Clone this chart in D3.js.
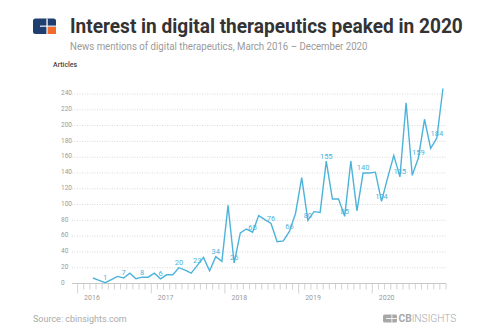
<!DOCTYPE html>
<html><head><meta charset="utf-8">
<script src="https://cdn.jsdelivr.net/npm/d3@7"></script>
<style>
html,body{margin:0;padding:0;background:#fff;}
text{font-family:Roboto,"Noto Sans",sans-serif;}
</style></head>
<body>
<svg id="chart" width="496" height="336"></svg>
<script>
// ---- data ----
const axisMonths = ["2016-01","2016-02","2016-03","2016-04","2016-05","2016-06","2016-07","2016-08","2016-09","2016-10","2016-11","2016-12",
"2017-01","2017-02","2017-03","2017-04","2017-05","2017-06","2017-07","2017-08","2017-09","2017-10","2017-11","2017-12",
"2018-01","2018-02","2018-03","2018-04","2018-05","2018-06","2018-07","2018-08","2018-09","2018-10","2018-11","2018-12",
"2019-01","2019-02","2019-03","2019-04","2019-05","2019-06","2019-07","2019-08","2019-09","2019-10","2019-11","2019-12",
"2020-01","2020-02","2020-03","2020-04","2020-05","2020-06","2020-07","2020-08","2020-09","2020-10","2020-11","2020-12"];
const dataMonths = axisMonths.slice(2);
const articles = [7,4,1,5,9,7,13,6,8,8,13,6,11,11,20,17,13,23,33,16,34,28,99,26,64,69,65,86,81,76,53,54,66,89,134,80,91,90,155,107,107,85,155,92,140,140,141,104,134,162,135,229,137,159,208,171,184,247];
const labeledMonths = ["2016-05","2016-08","2016-11","2017-02","2017-05","2017-08","2017-11","2018-02","2018-05","2018-08","2018-11","2019-02","2019-05","2019-08","2019-11","2020-02","2020-05","2020-08","2020-11"];
const yearLabels = ["2016","2017","2018","2019","2020"];
const yTicks = [0,20,40,60,80,100,120,140,160,180,200,220,240];

const title = "Interest in digital therapeutics peaked in 2020";
const subtitle = "News mentions of digital therapeutics, March 2016 \u2013 December 2020";

// ---- drawing ----
const svg = d3.select("#chart");
const lineColor = "#4db3da";

const x = d3.scaleBand().domain(axisMonths).range([77.6, 446]).paddingInner(0).paddingOuter(0);
const y = d3.scaleLinear().domain([0, 240]).range([283.5, 94]);
const cx = m => x(m) + x.bandwidth() / 2;

// fit a text to a given width by horizontal scaling
function fitText(sel, x0, y0, width) {
  const w = sel.node().getComputedTextLength();
  sel.attr("x", 0).attr("y", 0).attr("transform", `translate(${x0},${y0}) scale(${width / w},1)`);
}

// logo
const logo = svg.append("g");
logo.append("rect").attr("x", 33).attr("y", 18.5).attr("width", 23).attr("height", 15.5).attr("rx", 2.5).attr("fill", "#1d3e6f");
logo.append("rect").attr("x", 47.6).attr("y", 26.6).attr("width", 8.4).attr("height", 7.4).attr("fill", "#f26b2d");
logo.append("rect").attr("x", 46.4).attr("y", 18.5).attr("width", 1.3).attr("height", 15.5).attr("fill", "#fff");
logo.append("rect").attr("x", 40).attr("y", 25.6).attr("width", 16).attr("height", 1.1).attr("fill", "#fff");
logo.append("rect").attr("x", 51).attr("y", 30).attr("width", 5).attr("height", 4).attr("rx", 1.5).attr("fill", "#f26b2d");

// title
const t1 = svg.append("text").attr("font-size", 21).attr("font-weight", 700).attr("fill", "#333").text(title);
fitText(t1, 70, 33, 393);
const t2 = svg.append("text").attr("font-size", 10.5).attr("fill", "#9a9a9a").text(subtitle);
fitText(t2, 70, 50, 298);
svg.append("text").attr("x", 53).attr("y", 67).attr("font-size", 7).attr("font-weight", 500).attr("fill", "#444").text("Articles");

// gridlines
svg.append("g").selectAll("line").data(yTicks.filter(d => d > 0)).join("line")
  .attr("x1", 72).attr("x2", 446).attr("y1", d => y(d)).attr("y2", d => y(d))
  .attr("stroke", "#cfcfcf").attr("stroke-width", 0.8).attr("stroke-dasharray", "1,1.5");
svg.append("g").selectAll("text").data(yTicks).join("text")
  .attr("x", 61).attr("y", d => y(d) - 1).attr("dy", "0.35em").attr("font-size", 6.5).attr("fill", "#9a9a9a")
  .text(d => d);

// x axis
svg.append("line").attr("x1", 72).attr("x2", 446).attr("y1", y(0)).attr("y2", y(0)).attr("stroke", "#c8c8c8").attr("stroke-width", 1);
const tickData = axisMonths.map(m => ({pos: x(m), year: m.endsWith("-01")})).concat([{pos: 446, year: false}]);
svg.append("g").selectAll("line").data(tickData).join("line")
  .attr("x1", d => d.pos).attr("x2", d => d.pos).attr("y1", y(0)).attr("y2", d => d.year ? y(0) + 10 : y(0) + 6)
  .attr("stroke", "#c8c8c8").attr("stroke-width", 0.8);
svg.append("g").selectAll("text").data(yearLabels).join("text")
  .attr("x", d => x(d + "-01") + 6.5).attr("y", 299.5).attr("font-size", 7).attr("fill", "#9a9a9a").text(d => d);

// line
const pts = dataMonths.map((m, i) => ({m, v: articles[i]}));
svg.append("path").datum(pts)
  .attr("d", d3.line().x(d => cx(d.m)).y(d => y(d.v)))
  .attr("fill", "none").attr("stroke", lineColor).attr("stroke-width", 1.4).attr("stroke-linejoin", "miter");

// labels
svg.append("g").selectAll("text").data(pts.filter(d => labeledMonths.includes(d.m))).join("text")
  .attr("x", d => cx(d.m)).attr("y", d => y(d.v) - 2.5).attr("text-anchor", "middle")
  .attr("font-size", 7.5).attr("fill", lineColor).text(d => d.v);

// footer
svg.append("text").attr("x", 33).attr("y", 322).attr("font-size", 9).attr("fill", "#aaa").text("Source: cbinsights.com");
const fl = svg.append("g");
fl.append("rect").attr("x", 383).attr("y", 314.5).attr("width", 14).attr("height", 8).attr("rx", 1.5).attr("fill", "#a8a8a8");
fl.append("rect").attr("x", 391.5).attr("y", 314.5).attr("width", 0.8).attr("height", 8).attr("fill", "#fff");
fl.append("rect").attr("x", 386).attr("y", 318.2).attr("width", 11).attr("height", 0.8).attr("fill", "#fff");
const ft = fl.append("text").attr("font-size", 10.5).attr("fill", "#a8a8a8");
ft.append("tspan").attr("font-weight", 700).text("CB");
ft.append("tspan").attr("font-weight", 300).text("INSIGHTS");
fitText(ft, 398.5, 322.3, 58);
</script>
</body></html>
